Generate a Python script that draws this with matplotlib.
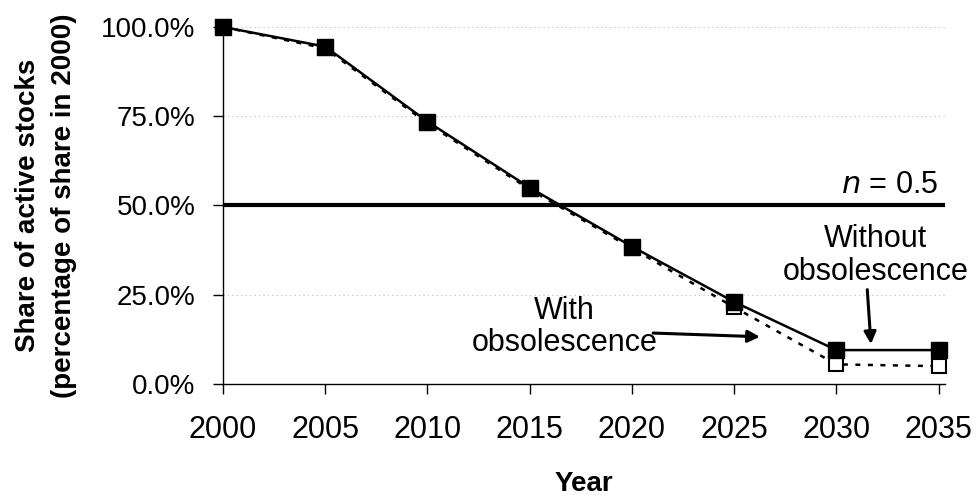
import matplotlib
matplotlib.use("Agg")
import matplotlib.pyplot as plt
from matplotlib.ticker import FuncFormatter

years = [2000, 2005, 2010, 2015, 2020, 2025, 2030, 2035]
without_obs = [100.0, 94.5, 73.5, 55.0, 38.5, 23.0, 9.5, 9.5]
with_obs = [100.0, 94.0, 73.0, 54.5, 38.0, 21.5, 5.5, 5.0]
threshold = 50.0
yticks = [0, 25, 50, 75, 100]

plt.rcParams['font.family'] = ['Liberation Sans', 'DejaVu Sans']
FS = 20

fig = plt.figure(figsize=(9.76, 4.96), dpi=100)
ax = fig.add_axes([0.2285, 0.2258, 0.968 - 0.2285, 0.9456 - 0.2258])

for y in [25, 75, 100]:
    ax.axhline(y, color='#bbbbbb', lw=0.8, ls=(0, (1, 3)), zorder=0)

ax.axhline(threshold, color='black', lw=3, zorder=2)

ax.plot(years, with_obs, color='black', lw=1.8, ls=(0, (2, 3)), marker='s',
        markersize=10, markerfacecolor='white', markeredgecolor='black',
        markeredgewidth=1.5, clip_on=False, zorder=3)
ax.plot(years, without_obs, color='black', lw=1.8, ls='-', marker='s',
        markersize=11, markerfacecolor='black', markeredgecolor='black',
        clip_on=False, zorder=4)

ax.set_xlim(2000, 2035.3)
ax.set_ylim(0, 100)
ax.set_xticks(years)
ax.set_yticks(yticks)
ax.yaxis.set_major_formatter(FuncFormatter(lambda v, p: f"{v:.1f}%"))
ax.tick_params(axis='both', length=7, width=1, direction='out')
ax.tick_params(axis='x', labelsize=22, pad=15)
ax.tick_params(axis='y', labelsize=20, pad=13)
for s in ['top', 'right']:
    ax.spines[s].set_visible(False)
for s in ['left', 'bottom']:
    ax.spines[s].set_linewidth(1)

ax.set_xlabel('Year', fontsize=FS, fontweight='bold', labelpad=19)
ax.set_ylabel('Share of active stocks\n(percentage of share in 2000)',
              fontsize=FS, fontweight='bold', labelpad=17, linespacing=1.5)

ax.text(2035.0, threshold + 1.5, r'$\it{n}$ = 0.5', fontsize=22, ha='right', va='bottom')

ax.annotate('', xy=(2026.4, 13.2), xytext=(2020.9, 14.3),
            arrowprops=dict(arrowstyle='-|>', color='black', lw=2.2, mutation_scale=18))
ax.text(2016.7, 16.0, 'With\nobsolescence', fontsize=22, ha='center', va='center', linespacing=1.1)

ax.annotate('', xy=(2031.7, 10.4), xytext=(2031.5, 27.2),
            arrowprops=dict(arrowstyle='-|>', color='black', lw=2.2, mutation_scale=18))
ax.text(2031.9, 36.0, 'Without\nobsolescence', fontsize=22, ha='center', va='center', linespacing=1.1)

fig.savefig('out.png', dpi=100)
